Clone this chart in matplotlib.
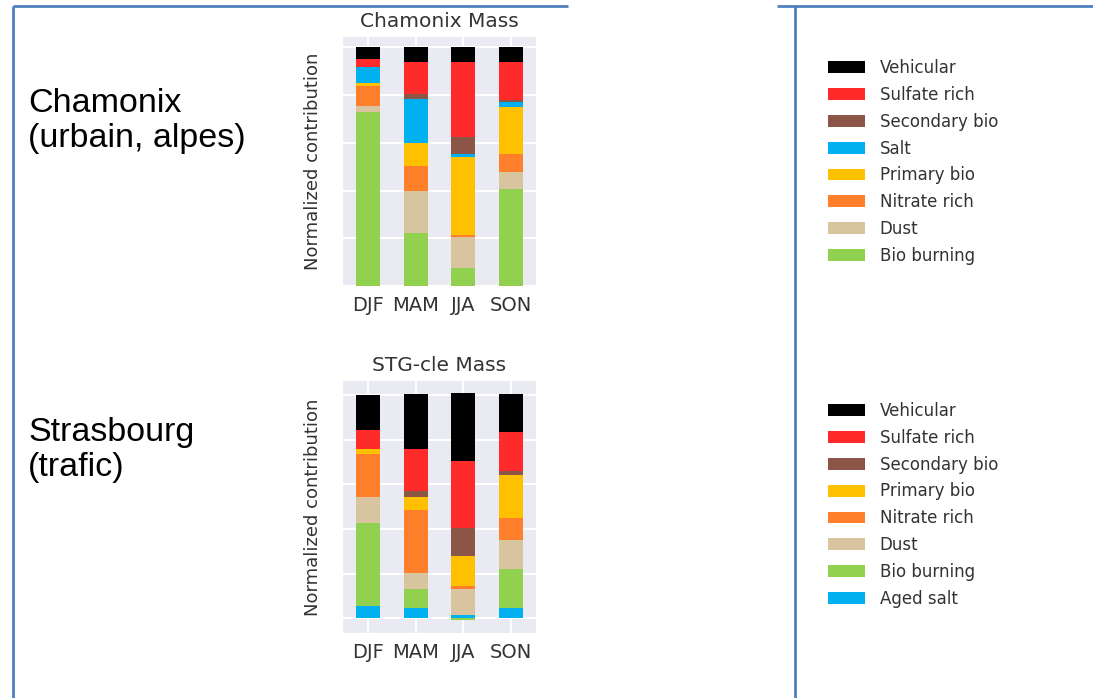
import numpy as np
import matplotlib
matplotlib.use("Agg")
import matplotlib.pyplot as plt
from matplotlib.patches import Patch
from matplotlib.lines import Line2D

# seasons on the x axis
seasons = ['DJF', 'MAM', 'JJA', 'SON']

# Chamonix, stacked from the bottom up
cham_labels = ['Bio burning', 'Dust', 'Nitrate rich', 'Primary bio',
               'Salt', 'Secondary bio', 'Sulfate rich', 'Vehicular']
cham_bio_burning = [0.727, 0.224, 0.074, 0.407]
cham_dust = [0.028, 0.175, 0.130, 0.070]
cham_nitrate = [0.084, 0.105, 0.008, 0.074]
cham_primary_bio = [0.013, 0.095, 0.330, 0.199]
cham_salt = [0.066, 0.185, 0.013, 0.021]
cham_secondary_bio = [0.0, 0.020, 0.069, 0.010]
cham_sulfate = [0.031, 0.134, 0.313, 0.157]
cham_vehicular = [0.052, 0.063, 0.063, 0.063]

# Strasbourg (STG-cle), stacked from the bottom up
stg_labels = ['Aged salt', 'Bio burning', 'Dust', 'Nitrate rich',
              'Primary bio', 'Secondary bio', 'Sulfate rich', 'Vehicular']
stg_aged_salt = [0.052, 0.045, 0.016, 0.045]
stg_bio_burning = [0.373, 0.087, -0.008, 0.177]
stg_dust = [0.118, 0.072, 0.114, 0.130]
stg_nitrate = [0.195, 0.280, 0.016, 0.097]
stg_primary_bio = [0.019, 0.058, 0.133, 0.195]
stg_secondary_bio = [0.0, 0.030, 0.126, 0.015]
stg_sulfate = [0.085, 0.186, 0.299, 0.177]
stg_vehicular = [0.160, 0.246, 0.307, 0.168]

colors = {
    'Vehicular': '#000000',
    'Sulfate rich': '#ff2a2a',
    'Secondary bio': '#8b5648',
    'Salt': '#00b0f0',
    'Aged salt': '#00b0f0',
    'Primary bio': '#ffc000',
    'Nitrate rich': '#ff7f2a',
    'Dust': '#d9c4a0',
    'Bio burning': '#92d050',
}

TXT = '#333333'
BLUE = '#4f80c0'

fig = plt.figure(figsize=(10.93, 6.98), dpi=100)
W, H = 1093, 698


def fx(px):
    return px / W


def fy(py):
    return 1 - py / H


def stacked(ax, labels, series, title, ylim):
    x = np.arange(len(seasons))
    pos = np.zeros(len(seasons))
    neg = np.zeros(len(seasons))
    for lab, vals in zip(labels, series):
        v = np.array(vals, dtype=float)
        bottom = np.where(v >= 0, pos, neg)
        ax.bar(x, v, 0.5, bottom=bottom, color=colors[lab], label=lab,
               linewidth=0, zorder=3)
        pos = pos + np.clip(v, 0, None)
        neg = neg + np.clip(v, None, 0)
    ax.set_facecolor('#eaeaf2')
    ax.set_xlim(-0.525, 3.525)
    ax.set_ylim(*ylim)
    ax.set_yticks([0, 0.2, 0.4, 0.6, 0.8, 1.0])
    ax.set_yticklabels([])
    ax.set_xticks(x)
    ax.set_xticklabels(seasons, fontsize=14, color=TXT)
    ax.tick_params(length=0, pad=7)
    ax.grid(True, color='white', linewidth=1.5, zorder=0)
    ax.set_axisbelow(True)
    for s in ax.spines.values():
        s.set_visible(False)
    ax.set_title(title, fontsize=14.5, color=TXT, pad=7)
    ax.set_ylabel('Normalized contribution', fontsize=13, color=TXT,
                  labelpad=8)


def add_legend(labels, top_px):
    handles = [Patch(facecolor=colors[l], edgecolor='none', label=l)
               for l in labels[::-1]]
    fig.legend(handles=handles, loc='upper left',
               bbox_to_anchor=(fx(828), fy(top_px)), frameon=False,
               fontsize=12, labelcolor=TXT, borderpad=0, borderaxespad=0,
               handlelength=2.2, handleheight=0.72, handletextpad=0.9,
               labelspacing=0.53)


ax1 = fig.add_axes([fx(343), fy(286), fx(536) - fx(343), fy(37) - fy(286)])
stacked(ax1, cham_labels,
        [cham_bio_burning, cham_dust, cham_nitrate, cham_primary_bio,
         cham_salt, cham_secondary_bio, cham_sulfate, cham_vehicular],
        'Chamonix Mass', (0, 1.043))

ax2 = fig.add_axes([fx(343), fy(633), fx(536) - fx(343), fy(381) - fy(633)])
stacked(ax2, stg_labels,
        [stg_aged_salt, stg_bio_burning, stg_dust, stg_nitrate,
         stg_primary_bio, stg_secondary_bio, stg_sulfate, stg_vehicular],
        'STG-cle Mass', (-0.067, 1.064))

add_legend(cham_labels, 59)
add_legend(stg_labels, 402)

# site labels on the left
big = dict(fontsize=24.5, family='Liberation Sans', color='black',
           va='baseline', ha='left')
fig.text(fx(28), fy(112), 'Chamonix', **big)
fig.text(fx(28), fy(147), '(urbain, alpes)', **big)
fig.text(fx(28), fy(441), 'Strasbourg', **big)
fig.text(fx(28), fy(476), '(trafic)', **big)

# page frame lines
frame = [((13, 568), (6, 6)), ((777, 1093), (6, 6)),
         ((13, 13), (6, 698)), ((795, 795), (6, 698))]
for (xa, xb), (ya, yb) in frame:
    fig.add_artist(Line2D([fx(xa), fx(xb)], [fy(ya), fy(yb)], color=BLUE,
                          linewidth=2.0, solid_capstyle='butt'))

fig.savefig('out.png', dpi=100, facecolor='white')
